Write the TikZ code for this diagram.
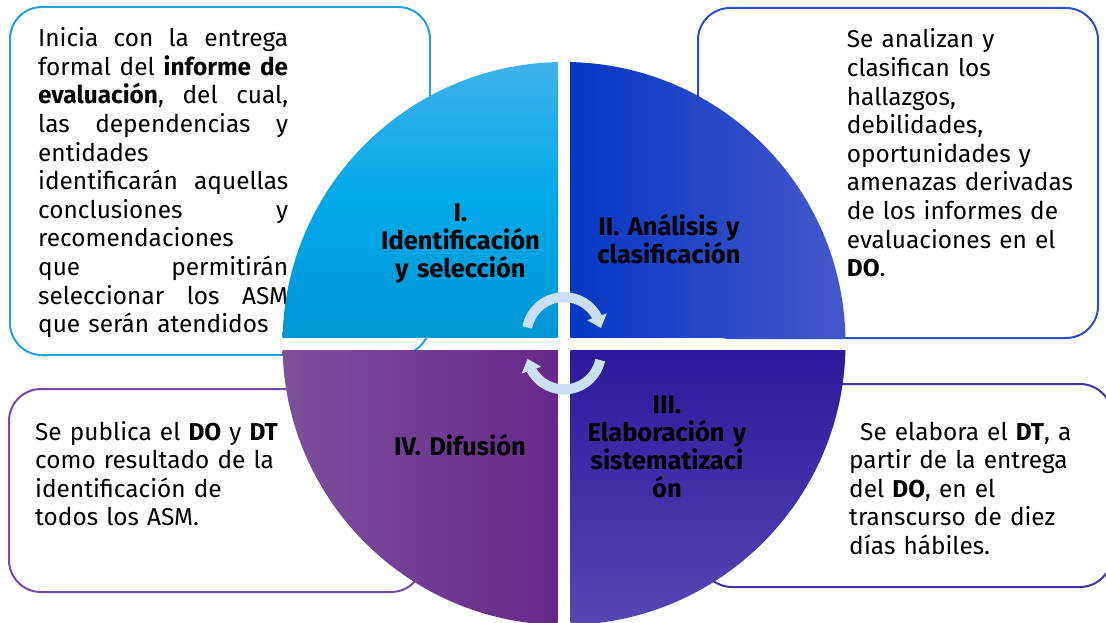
\documentclass[tikz,border=0pt]{standalone}
\usepackage{fontspec}
\setmainfont{Fira Sans}
\usetikzlibrary{arrows.meta,bending}

\definecolor{lineI}{HTML}{1FA3E0}
\definecolor{lineII}{HTML}{2C4FC6}
\definecolor{lineIII}{HTML}{4433A8}
\definecolor{lineIV}{HTML}{7A48A6}
\definecolor{arrowblue}{HTML}{C9DFF3}

\begin{document}
\begin{tikzpicture}[x=1pt,y=-1pt,
    infobox/.style={draw, line width=2pt, rounded corners=32pt, fill=white},
    bodytext/.style={anchor=base west, inner sep=0pt, align=left, font=\fontsize{24.4}{28.6}\selectfont},
    steplabel/.style={anchor=base, inner sep=0pt, align=center, text width=220pt, font=\bfseries\fontsize{25.5}{28}\selectfont},
    cyclearrow/.style={line width=10pt, draw=arrowblue, -{Triangle[width=20pt,length=12pt]}}]
    \useasboundingbox (0,0) rectangle (1106,623);
    \clip (0,0) rectangle (1106,623);

    % boxes behind the circle
    \node[infobox, draw=lineI, minimum width=420pt, minimum height=348pt] (boxI) at (220,181) {};
    \node[infobox, draw=lineII, minimum width=400pt, minimum height=330pt] (boxII) at (898,173) {};
    \node[infobox, draw=lineIII, minimum width=412pt, minimum height=203pt] (boxIII) at (906,485.5) {};
    \node[infobox, draw=lineIV, minimum width=414pt, minimum height=203pt] (boxIV) at (216,490.5) {};

    % texts
    \node[bodytext, text width=250pt] (textI) at (38,46.7) {Inicia\hfill con\hfill la\hfill entrega\\
        formal\hfill del\hfill \textbf{informe\hfill de}\\
        \textbf{evaluación},\hfill del\hfill cual,\\
        las\hfill dependencias\hfill y\\
        entidades\\
        identificarán\hfill aquellas\\
        conclusiones\hfill y\\
        recomendaciones\\
        que\hfill permitirán\\
        seleccionar\hfill los\hfill ASM\\
        que serán atendidos};
    \node[bodytext, text width=250pt] (textII) at (846.7,48) {Se analizan y\\ clasifican los\\ hallazgos,\\ debilidades,\\ oportunidades y\\ amenazas derivadas\\ de los informes de\\ evaluaciones en el\\ \textbf{DO}.};
    \node[bodytext, text width=250pt] (textIII) at (849,440) {\hspace*{11pt}Se elabora el \textbf{DT}, a\\ partir de la entrega\\ del \textbf{DO}, en el\\ transcurso de diez\\ días hábiles.};
    \node[bodytext, text width=250pt] (textIV) at (35,440) {Se publica el \textbf{DO} y \textbf{DT}\\ como resultado de la\\ identificación de\\ todos los ASM.};

    % circle in four parts
    \begin{scope}
        \clip (564,343.5) circle[radius=281.5];
        \shade[top color={rgb,255:red,66;green,178;blue,234}, bottom color={rgb,255:red,0;green,150;blue,213}, middle color={rgb,255:red,0;green,169;blue,233}] (282,60) rectangle (557.5,337);
        \shade[left color={rgb,255:red,8;green,55;blue,196}, right color={rgb,255:red,70;green,88;blue,202}] (570.5,60) rectangle (847,337);
        \shade[top color={rgb,255:red,43;green,24;blue,156}, bottom color={rgb,255:red,86;green,72;blue,178}] (570.5,350) rectangle (847,627);
        \shade[left color={rgb,255:red,126;green,80;blue,156}, right color={rgb,255:red,102;green,40;blue,138}] (282,350) rectangle (557.5,627);
    \end{scope}

    % cycle arrows
    \coordinate (upc) at (564,334.6);
    \coordinate (loc) at (564,352.4);
    \begin{scope}[shift={(2,3)}]
        \draw[cyclearrow, draw=black, opacity=0.2] (upc) ++(-169:37.5) arc[start angle=-169, end angle=-10, radius=37.5];
        \draw[cyclearrow, draw=black, opacity=0.2] (loc) ++(12:37) arc[start angle=12, end angle=170, radius=37];
    \end{scope}
    \draw[cyclearrow] (upc) ++(-169:37.5) arc[start angle=-169, end angle=-10, radius=37.5];
    \draw[cyclearrow] (loc) ++(12:37) arc[start angle=12, end angle=170, radius=37];

    % step labels
    \node[steplabel] (labI) at (460.5,221.7) {I.\\ Identificación\\ y selección};
    \node[steplabel] (labII) at (669,235) {II. Análisis y\\ clasificación};
    \node[steplabel] (labIII) at (667,413) {III.\\ Elaboración y\\ sistematizaci\\ ón};
    \node[steplabel] (labIV) at (460,455) {IV. Difusión};
\end{tikzpicture}
\end{document}
